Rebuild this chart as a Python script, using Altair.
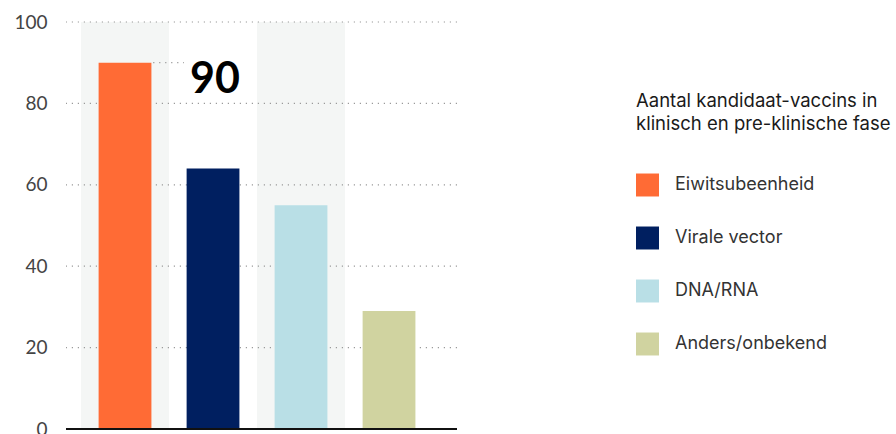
import altair as alt
import pandas as pd

categories = ["Eiwitsubeenheid", "Virale vector", "DNA/RNA", "Anders/onbekend"]
values = [90, 64, 55, 29]
colors = ["#ff6b35", "#001f60", "#b9dfe6", "#d0d3a0"]
shaded = ["Eiwitsubeenheid", "DNA/RNA"]
grid_values = [20, 40, 60, 80, 100]
annotation = "90"

bars = pd.DataFrame({"cat": categories, "val": values})
bg = pd.DataFrame({"cat": shaded, "top": [100] * len(shaded)})
grid = pd.DataFrame({"g": grid_values})
leader = pd.DataFrame({"a": [categories[0]], "b": [categories[1]], "v": [values[0]]})
ann = pd.DataFrame({"cat": [categories[1]], "v": [values[0]], "t": [annotation]})
base0 = pd.DataFrame({"z": [0]})

xscale = alt.Scale(domain=categories, paddingInner=0, paddingOuter=0.2216, align=0.385)
yscale = alt.Scale(domain=[0, 100], nice=False)

x_enc = alt.X("cat:N", scale=xscale, axis=None, sort=categories)

background = alt.Chart(bg).mark_bar(width={"band": 1}, color="#f4f6f5").encode(
    x=x_enc,
    y=alt.Y("top:Q", scale=yscale, axis=alt.Axis(
        values=grid_values + [0], grid=False, domain=False, ticks=False,
        labelFont="Lato", labelFontSize=19, labelColor="#444444", labelPadding=19,
        title=None)),
)

gridlines = alt.Chart(grid).mark_rule(color="#9a9a9a", strokeWidth=1.2, strokeDash=[1.2, 4.8]).encode(
    y=alt.Y("g:Q", scale=yscale)
)

barlayer = alt.Chart(bars).mark_bar(width={"band": 0.6}).encode(
    x=x_enc,
    y=alt.Y("val:Q", scale=yscale),
    color=alt.Color("cat:N", scale=alt.Scale(domain=categories, range=colors), sort=categories,
        legend=alt.Legend(
            title=["Aantal kandidaat-vaccins in", "klinisch en pre-klinische fase"],
            orient="none", legendX=570, legendY=70,
            titleFont="Inter", titleFontSize=18.5, titleFontWeight="normal", titleColor="#1a1a1a",
            titleLineHeight=23, titlePadding=40, titleLimit=400,
            labelFont="Inter", labelFontSize=18, labelColor="#333333", labelOffset=16,
            labelLimit=300,
            symbolType="square", symbolSize=528, symbolStrokeWidth=0, symbolOpacity=1,
            rowPadding=30,
        )),
)

leaderline = alt.Chart(leader).mark_rule(color="#9a9a9a", strokeWidth=1.2, strokeDash=[1.2, 4.8]).encode(
    x=alt.X("a:N", scale=xscale, bandPosition=0.82),
    x2=alt.X2("b:N", bandPosition=0.17),
    y=alt.Y("v:Q", scale=yscale),
)

label = alt.Chart(ann).mark_text(font="Lato", fontSize=43, fontWeight="bold", color="#000000",
                                 baseline="alphabetic", align="center", dx=2, dy=30).encode(
    x=alt.X("cat:N", scale=xscale, bandPosition=0.5),
    y=alt.Y("v:Q", scale=yscale),
    text="t:N",
)

baseline = alt.Chart(base0).mark_rule(color="#111111", strokeWidth=2).encode(
    y=alt.Y("z:Q", scale=yscale)
)

chart = alt.layer(background, gridlines, barlayer, leaderline, label, baseline).properties(
    width=391, height=407,
    autosize=alt.AutoSizeParams(type="none"),
    padding={"left": 66, "top": 22, "right": 439, "bottom": 5},
).configure_view(stroke=None)

chart.save("out.html", embed_options={"renderer": "svg", "actions": False})
